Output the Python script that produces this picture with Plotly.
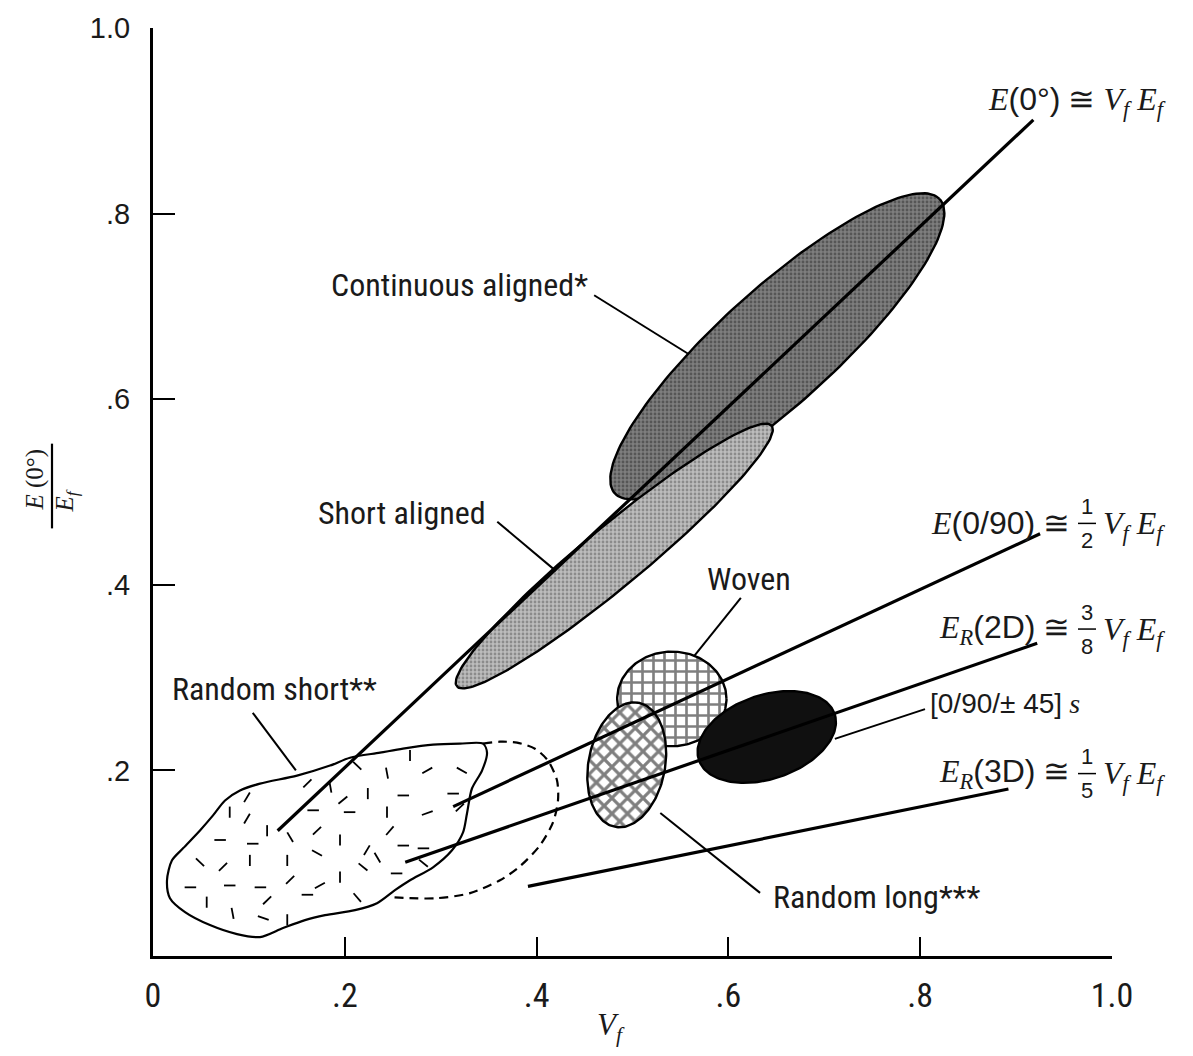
import numpy as np
import plotly.graph_objects as go

# ---------------- data ----------------
x_tickvals = [0, 0.2, 0.4, 0.6, 0.8, 1.0]
x_ticktext = ["0", ".2", ".4", ".6", ".8", "1.0"]
y_tickvals = [0.2, 0.4, 0.6, 0.8, 1.0]
y_ticktext = [".2", ".4", ".6", ".8", "1.0"]

# rule-of-mixtures lines (start / end points)
law_names = ["E(0°)", "E(0/90)", "ER(2D)", "ER(3D)"]
law_x0 = [0.130, 0.313, 0.263, 0.391]
law_y0 = [0.135, 0.161, 0.101, 0.075]
law_x1 = [0.918, 0.925, 0.922, 0.892]
law_y1 = [0.901, 0.455, 0.337, 0.180]

# property regions approximated by ellipses
ell_names = ["Continuous aligned", "Short aligned", "Woven", "Random long", "[0/90/±45]s"]
ell_cx = [0.651, 0.481, 0.541, 0.494, 0.640]
ell_cy = [0.657, 0.431, 0.277, 0.206, 0.236]
ell_a = [0.232, 0.216, 0.057, 0.068, 0.075]
ell_b = [0.061, 0.032, 0.051, 0.040, 0.045]
ell_ang = [43.2, 40.6, 0.0, 80.0, 20.0]

# random short region outline (solid) and its dashed extension
rs_x = [0.0146, 0.0198, 0.0313, 0.0490, 0.0626, 0.0751, 0.0907, 0.1116, 0.1502, 0.1846,
        0.2054, 0.2367, 0.2607, 0.2920, 0.3201, 0.3441, 0.3483, 0.3431, 0.3326, 0.3274,
        0.3233, 0.3118, 0.2920, 0.2680, 0.2523, 0.2336, 0.2106, 0.1794, 0.1585, 0.1356,
        0.1116, 0.0876, 0.0594, 0.0334, 0.0177]
rs_y = [0.0816, 0.1031, 0.1160, 0.1353, 0.1515, 0.1676, 0.1783, 0.1858, 0.1944, 0.2052,
        0.2137, 0.2191, 0.2234, 0.2277, 0.2288, 0.2288, 0.2191, 0.1998, 0.1805, 0.1536,
        0.1332, 0.1139, 0.0956, 0.0816, 0.0709, 0.0569, 0.0494, 0.0440, 0.0387, 0.0301,
        0.0204, 0.0236, 0.0333, 0.0473, 0.0623]
rsd_x = [0.3441, 0.3618, 0.3796, 0.3983, 0.4119, 0.4213, 0.4223, 0.4171, 0.4035, 0.3827,
         0.3618, 0.3306, 0.2961, 0.2680, 0.2471]
rsd_y = [0.2288, 0.2309, 0.2299, 0.2234, 0.2105, 0.1890, 0.1676, 0.1439, 0.1192, 0.0967,
         0.0816, 0.0677, 0.0623, 0.0623, 0.0634]

# short fibre marks inside random short region (centre, orientation deg)
fib_x = [0.098, 0.080, 0.098, 0.119, 0.143, 0.070, 0.104, 0.049, 0.073, 0.101, 0.140, 0.039,
         0.056, 0.080, 0.083, 0.112, 0.119, 0.115, 0.143, 0.140, 0.161, 0.174, 0.195, 0.213,
         0.171, 0.195, 0.171, 0.167, 0.198, 0.185, 0.161, 0.213, 0.205, 0.224, 0.244, 0.268,
         0.261, 0.244, 0.247, 0.223, 0.234, 0.219, 0.254, 0.261, 0.286, 0.286, 0.282, 0.313,
         0.322, 0.320, 0.282]
fib_y = [0.171, 0.155, 0.148, 0.135, 0.128, 0.125, 0.121, 0.101, 0.096, 0.103, 0.103, 0.074,
         0.058, 0.076, 0.046, 0.074, 0.060, 0.041, 0.082, 0.039, 0.066, 0.076, 0.085, 0.063,
         0.111, 0.125, 0.135, 0.157, 0.168, 0.182, 0.186, 0.205, 0.155, 0.175, 0.197, 0.216,
         0.173, 0.155, 0.135, 0.114, 0.106, 0.096, 0.089, 0.119, 0.200, 0.154, 0.116, 0.175,
         0.200, 0.160, 0.100]
fib_ang = [60, 90, 60, 90, 120, 0, 0, 135, 45, 90, 90, 0,
           90, 0, 100, 0, 45, 160, 45, 90, 0, 30, 90, 130,
           150, 90, 45, 0, 40, 100, 45, 135, 0, 90, 100, 90,
           0, 90, 50, 60, 120, 140, 0, 0, 30, 20, 0, 0,
           150, 45, 140]

# leader lines (label -> region)
lead_x0 = [0.460, 0.359, 0.613, 0.104, 0.529, 0.711]
lead_y0 = [0.712, 0.468, 0.386, 0.262, 0.154, 0.234]
lead_x1 = [0.558, 0.420, 0.564, 0.149, 0.633, 0.805]
lead_y1 = [0.649, 0.415, 0.323, 0.200, 0.068, 0.266]

# ---------------- figure ----------------
fig = go.Figure()
NOHOVER = dict(hoverinfo="skip", showlegend=False)

# random short region
fig.add_trace(go.Scatter(x=rs_x + [rs_x[0]], y=rs_y + [rs_y[0]], mode="lines",
                         line=dict(color="black", width=2.2, shape="spline", smoothing=0.8),
                         fill="toself", fillcolor="white", **NOHOVER))
fig.add_trace(go.Scatter(x=rsd_x, y=rsd_y, mode="lines",
                         line=dict(color="black", width=2.2, dash="9px,6px", shape="spline", smoothing=0.8),
                         **NOHOVER))
# fibre marks
hl = 0.006
fx, fy = [], []
for cx, cy, an in zip(fib_x, fib_y, fib_ang):
    t = np.deg2rad(an)
    fx += [cx - hl * np.cos(t), cx + hl * np.cos(t), None]
    fy += [cy - hl * np.sin(t), cy + hl * np.sin(t), None]
fig.add_trace(go.Scatter(x=fx, y=fy, mode="lines", line=dict(color="black", width=1.8), **NOHOVER))

# ellipse regions
styles = [
    dict(fillcolor="#767676", fillpattern=dict(shape=".", bgcolor="#7e7e7e", fgcolor="#2e2e2e", size=4, solidity=0.4)),
    dict(fillcolor="#acacac", fillpattern=dict(shape=".", bgcolor="#bcbcbc", fgcolor="#5a5a5a", size=4, solidity=0.38)),
    dict(fillcolor="white", fillpattern=dict(shape="+", bgcolor="white", fgcolor="black", size=11, solidity=0.42)),
    dict(fillcolor="white", fillpattern=dict(shape="x", bgcolor="white", fgcolor="black", size=11, solidity=0.5)),
    dict(fillcolor="#101010"),
]
tt = np.linspace(0, 2 * np.pi, 181)
for i in range(len(ell_names)):
    th = np.deg2rad(ell_ang[i])
    ex = ell_cx[i] + ell_a[i] * np.cos(tt) * np.cos(th) - ell_b[i] * np.sin(tt) * np.sin(th)
    ey = ell_cy[i] + ell_a[i] * np.cos(tt) * np.sin(th) + ell_b[i] * np.sin(tt) * np.cos(th)
    fig.add_trace(go.Scatter(x=ex, y=ey, mode="lines", fill="toself",
                             line=dict(color="black", width=2.4), **styles[i], **NOHOVER))

# law lines
for i in range(len(law_names)):
    fig.add_trace(go.Scatter(x=[law_x0[i], law_x1[i]], y=[law_y0[i], law_y1[i]], mode="lines",
                             line=dict(color="black", width=3.2), **NOHOVER))
# leader lines
for i in range(len(lead_x0)):
    fig.add_trace(go.Scatter(x=[lead_x0[i], lead_x1[i]], y=[lead_y0[i], lead_y1[i]], mode="lines",
                             line=dict(color="black", width=2), **NOHOVER))

# ---------------- annotations ----------------
SANS_N = "Liberation Sans Narrow, Roboto Condensed, Arial Narrow, Liberation Sans, sans-serif"
SANS = "Liberation Sans, Arial, sans-serif"
SERIF = "Liberation Serif, Times New Roman, serif"
ann = []


def px2p(px, py):
    return (px - 153) / 959.0, (956 - py) / 931.0


def txt(px, py, s, font, size, xa="left", angle=0):
    x, y = px2p(px, py)
    ann.append(dict(x=x, y=y, xref="paper", yref="paper", text=s, showarrow=False, xanchor=xa,
                    yanchor="middle", textangle=angle,
                    font=dict(family=font, size=size, color="#1a1a1a")))


# region labels
for s, (px, py), xa in [("Continuous aligned*", (590, 283), "right"),
                        ("Short aligned", (488, 512), "right"),
                        ("Woven", (749, 578), "center"),
                        ("Random short**", (170, 688), "left"),
                        ("Random long***", (771, 897), "left")]:
    txt(px, py, s, SANS_N, 32, xa)

sp = lambda s: '<span style="font-family:Liberation Sans">' + s + '</span>'
VE = "<i>V<sub>f</sub></i> <i>E<sub>f</sub></i>"

txt(986, 99, "<i>E</i>" + sp("(0°)") + " ≅ " + VE, SERIF, 32)

rows = [("<i>E</i>" + sp("(0/90)") + " ≅", "1", "2", 522),
        ("<i>E<sub>R</sub></i>" + sp("(2D)") + " ≅", "3", "8", 628),
        ("<i>E<sub>R</sub></i>" + sp("(3D)") + " ≅", "1", "5", 773)]
shapes = []
for left, num, den, py in rows:
    txt(1072, py, left, SERIF, 32, "right")
    txt(1087, py - 17, num, SANS, 22, "center")
    txt(1087, py + 17, den, SANS, 22, "center")
    x0, yb = px2p(1078, py)
    x1, _ = px2p(1096, py)
    shapes.append(dict(type="line", xref="paper", yref="paper", x0=x0, x1=x1, y0=yb, y1=yb,
                       line=dict(color="black", width=1.5)))
    txt(1101, py + 2, VE, SERIF, 32, "left")

txt(928, 703, sp("[0/90/± 45]") + " <i>s</i>", SERIF, 28, "left")

# axis titles
txt(611, 1027, "<i>V<sub>f</sub></i>", SERIF, 31, "center")
txt(35, 478, "<i>E</i> (0°)", SERIF, 25, "center", -90)
txt(66, 500, "<i>E<sub>f</sub></i>", SERIF, 25, "center", -90)
xb, yb0 = px2p(52, 442)
_, yb1 = px2p(52, 527)
shapes.append(dict(type="line", xref="paper", yref="paper", x0=xb, x1=xb, y0=yb0, y1=yb1,
                   line=dict(color="black", width=2.2)))

fig.update_layout(
    width=1193, height=1056, autosize=False,
    margin=dict(l=153, r=81, t=25, b=100),
    paper_bgcolor="white", plot_bgcolor="white",
    annotations=ann, shapes=shapes,
    xaxis=dict(range=[0, 1], tickvals=x_tickvals, ticktext=x_ticktext, ticks="inside", ticklen=19,
               tickwidth=2, tickcolor="black", showline=True, linewidth=3, linecolor="black",
               showgrid=False, zeroline=False, ticklabelstandoff=7,
               tickfont=dict(family=SANS_N, size=34, color="#1a1a1a")),
    yaxis=dict(range=[0, 1], tickvals=y_tickvals, ticktext=y_ticktext, ticks="inside", ticklen=22,
               tickwidth=2, tickcolor="black", showline=True, linewidth=3, linecolor="black",
               showgrid=False, zeroline=False, ticklabelstandoff=14,
               tickfont=dict(family=SANS, size=29, color="#1a1a1a")),
)

fig.write_html("out.html")
